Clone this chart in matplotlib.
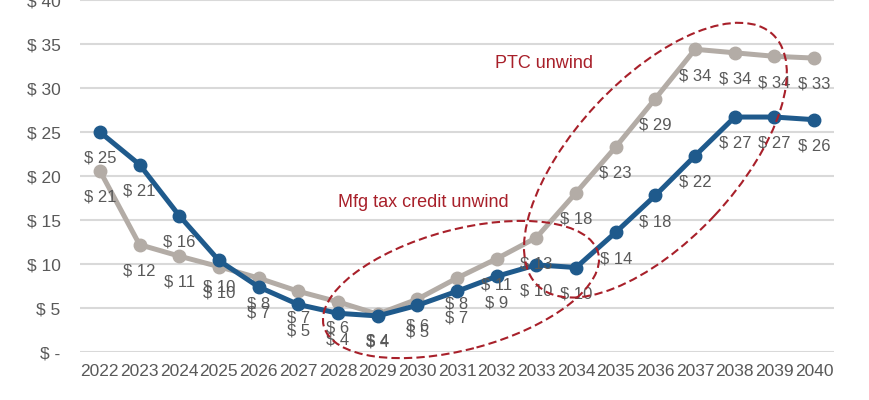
import matplotlib
matplotlib.use("Agg")
import matplotlib.pyplot as plt
from matplotlib.patches import Ellipse
from matplotlib.transforms import Affine2D, ScaledTranslation
from matplotlib import font_manager

years = [str(y) for y in range(2022, 2041)]
blue_vals = [25.0, 21.3, 15.5, 10.4, 7.4, 5.4, 4.4, 4.1, 5.3, 6.9, 8.6, 9.9, 9.6,
             13.6, 17.8, 22.3, 26.7, 26.7, 26.4]
gray_vals = [20.6, 12.2, 10.9, 9.7, 8.4, 6.9, 5.7, 4.3, 6.0, 8.4, 10.6, 13.0, 18.1,
             23.3, 28.8, 34.4, 34.0, 33.6, 33.4]
yticks = [0, 5, 10, 15, 20, 25, 30, 35, 40]
ytick_labels = ["$ -", "$ 5", "$ 10", "$ 15", "$ 20", "$ 25", "$ 30", "$ 35", "$ 40"]
notes = ["Mfg tax credit unwind", "PTC unwind"]

names = {f.name for f in font_manager.fontManager.ttflist}
fam = "Liberation Sans Narrow" if "Liberation Sans Narrow" in names else "Liberation Sans"
plt.rcParams["font.family"] = [fam, "DejaVu Sans"]

BLUE = "#1f5a8c"
GRAY = "#b3aca6"
RED = "#a8202a"
TXT = "#595959"

fig = plt.figure(figsize=(8.7, 4.0), dpi=100)
ax = fig.add_axes([80 / 870, 48 / 400, 754 / 870, 352 / 400])
x = list(range(len(years)))

ax.plot(x, gray_vals, color=GRAY, lw=3.6, marker="o", ms=9, zorder=3)
ax.plot(x, blue_vals, color=BLUE, lw=3.6, marker="o", ms=9, zorder=4)

for xi, v in zip(x, gray_vals):
    ax.annotate(f"$ {round(v + 1e-9):.0f}", (xi, v), xytext=(0, -19), textcoords="offset points",
                ha="center", va="center", fontsize=12, color=TXT, zorder=5)
for xi, v in zip(x, blue_vals):
    ax.annotate(f"$ {round(v + 1e-9):.0f}", (xi, v), xytext=(0, -19), textcoords="offset points",
                ha="center", va="center", fontsize=12, color=TXT, zorder=5)

ax.set_xlim(-0.5, len(years) - 0.5)
ax.set_ylim(0, 40)
ax.set_xticks(x)
ax.set_xticklabels(years)
ax.set_yticks(yticks)
ax.set_yticklabels(ytick_labels)
ax.tick_params(axis="both", length=0, labelsize=12.5, colors=TXT)
ax.tick_params(axis="y", pad=14)
ax.tick_params(axis="x", pad=9)
ax.grid(axis="y", color="#d9d9d9", lw=1.5)
ax.set_axisbelow(True)
for s in ax.spines.values():
    s.set_visible(False)

# dashed ellipse annotations (center in data units, size in pixels)
scale = Affine2D().scale(fig.dpi / 100.0)
for (cx, cy), w, h, ang in [((9.1, 7.1), 284, 120, 15), ((14.0, 21.8), 344, 162, 47)]:
    e = Ellipse((0, 0), w, h, angle=ang, fill=False, edgecolor=RED, lw=1.5,
                linestyle=(0, (4, 2)), transform=scale + ScaledTranslation(cx, cy, ax.transData),
                zorder=6, clip_on=False)
    ax.add_patch(e)

ax.text(8.16, 17.0, notes[0], ha="center", va="center", fontsize=13, color=RED)
ax.text(11.18, 32.8, notes[1], ha="center", va="center", fontsize=13, color=RED)

fig.savefig("out.png", dpi=100)
